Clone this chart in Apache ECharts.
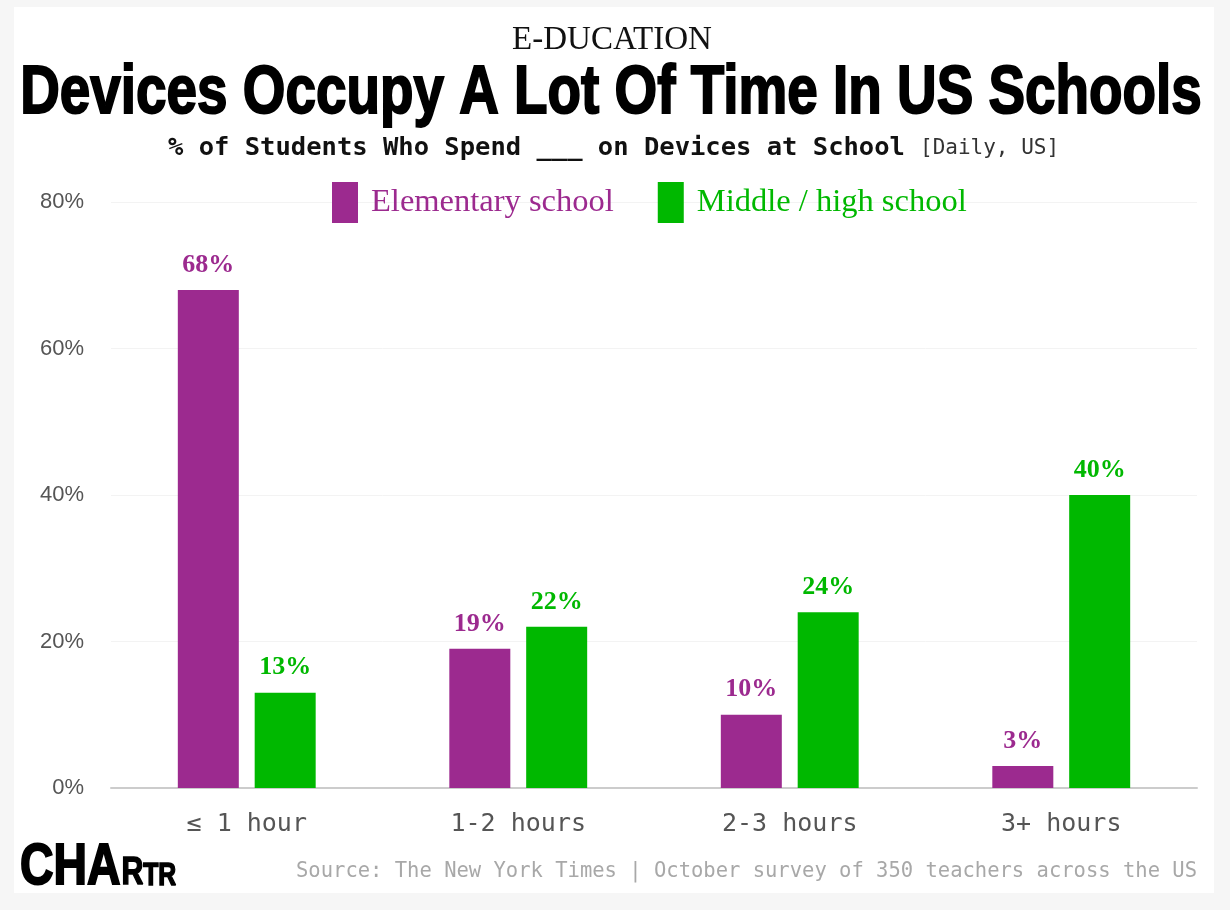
<!DOCTYPE html>
<html>
<head>
<meta charset="utf-8">
<script src="https://cdn.jsdelivr.net/npm/echarts@6/dist/echarts.min.js"></script>
<style>
html,body{margin:0;padding:0;background:#f6f6f6;}
#chart{width:1230px;height:910px;}
</style>
</head>
<body>
<div id="chart"></div>
<script>
const categories = ['≤ 1 hour', '1-2 hours', '2-3 hours', '3+ hours'];
const elementary = [68, 19, 10, 3];
const middleHigh = [13, 22, 24, 40];
const seriesNames = ['Elementary school', 'Middle / high school'];
const yTicks = [0, 20, 40, 60, 80];

const PURPLE = '#9c2a8f';
const GREEN = '#00b800';

const chart = echarts.init(document.getElementById('chart'));
chart.setOption({
  backgroundColor: '#f6f6f6',
  animation: false,
  graphic: [
    { type: 'rect', z: -10, shape: { x: 14, y: 7, width: 1200, height: 886 }, style: { fill: '#ffffff' } },
    { type: 'text', x: 612, y: 40,
      style: { text: 'E-DUCATION', font: '33px "Liberation Serif", serif', fill: '#111', textAlign: 'center', textVerticalAlign: 'middle' } },
    { type: 'text', x: 611, y: 94, scaleX: 0.795,
      style: { text: 'Devices Occupy A Lot Of Time In US Schools', font: 'bold 69px "Liberation Sans", Arial, sans-serif', fill: '#000', stroke: '#000', lineWidth: 2, textAlign: 'center', textVerticalAlign: 'middle' } },
    { type: 'text', x: 168, y: 148,
      style: { text: '% of Students Who Spend ___ on Devices at School', font: 'bold 25.5px "DejaVu Sans Mono", monospace', fill: '#111', textAlign: 'left', textVerticalAlign: 'middle' } },
    { type: 'text', x: 920, y: 149,
      style: { text: '[Daily, US]', font: '21px "DejaVu Sans Mono", monospace', fill: '#333', textAlign: 'left', textVerticalAlign: 'middle' } },
    { type: 'group', x: 20, y: 885, scaleX: 0.8, children: [
      { type: 'text', x: 0, y: 12, style: { text: 'CHA', font: 'bold 58px "Liberation Sans", Arial, sans-serif', fill: '#000', stroke: '#000', lineWidth: 2, textAlign: 'left', textVerticalAlign: 'bottom' } },
      { type: 'text', x: 127, y: 8, style: { text: 'R', font: 'bold 38px "Liberation Sans", Arial, sans-serif', fill: '#000', stroke: '#000', lineWidth: 1.5, textAlign: 'left', textVerticalAlign: 'bottom' } },
      { type: 'text', x: 154, y: 7, style: { text: 'TR', font: 'bold 31px "Liberation Sans", Arial, sans-serif', fill: '#000', stroke: '#000', lineWidth: 1.5, textAlign: 'left', textVerticalAlign: 'bottom' } }
    ] },
    { type: 'text', x: 1197, y: 872,
      style: { text: 'Source: The New York Times | October survey of 350 teachers across the US', font: '20.5px "DejaVu Sans Mono", monospace', fill: '#a8a8a8', textAlign: 'right', textVerticalAlign: 'middle' } }
  ],
  legend: {
    top: 177,
    left: 327,
    itemWidth: 26,
    itemHeight: 41,
    itemGap: 44,
    icon: 'rect',
    selectedMode: false,
    textStyle: { fontFamily: '"Liberation Serif", serif', fontSize: 32.5, padding: [6, 0, 0, 8] },
    data: [
      { name: seriesNames[0], textStyle: { color: PURPLE } },
      { name: seriesNames[1], textStyle: { color: GREEN } }
    ]
  },
  grid: { left: 111, right: 33, top: 202, bottom: 122, containLabel: false },
  xAxis: {
    type: 'category',
    data: categories,
    axisLine: { lineStyle: { color: '#cccccc', width: 2 } },
    axisTick: { show: false },
    axisLabel: { margin: 24, color: '#555', fontFamily: '"DejaVu Sans Mono", monospace', fontSize: 25 }
  },
  yAxis: {
    type: 'value',
    min: yTicks[0],
    max: yTicks[yTicks.length - 1],
    interval: 20,
    axisLine: { show: false },
    axisTick: { show: false },
    splitLine: { lineStyle: { color: '#f3f3f3', width: 1 } },
    axisLabel: { margin: 27, color: '#555', fontFamily: '"Liberation Sans", Arial, sans-serif', fontSize: 22, formatter: '{value}%' }
  },
  series: [
    {
      name: seriesNames[0], type: 'bar', data: elementary, barWidth: 61, barGap: '26%',
      itemStyle: { color: PURPLE },
      label: { show: true, position: 'top', distance: 12, formatter: '{c}%', color: PURPLE, fontFamily: '"Liberation Serif", serif', fontWeight: 'bold', fontSize: 26 }
    },
    {
      name: seriesNames[1], type: 'bar', data: middleHigh, barWidth: 61, barGap: '26%',
      itemStyle: { color: GREEN },
      label: { show: true, position: 'top', distance: 12, formatter: '{c}%', color: GREEN, fontFamily: '"Liberation Serif", serif', fontWeight: 'bold', fontSize: 26 }
    }
  ]
});
</script>
</body>
</html>
